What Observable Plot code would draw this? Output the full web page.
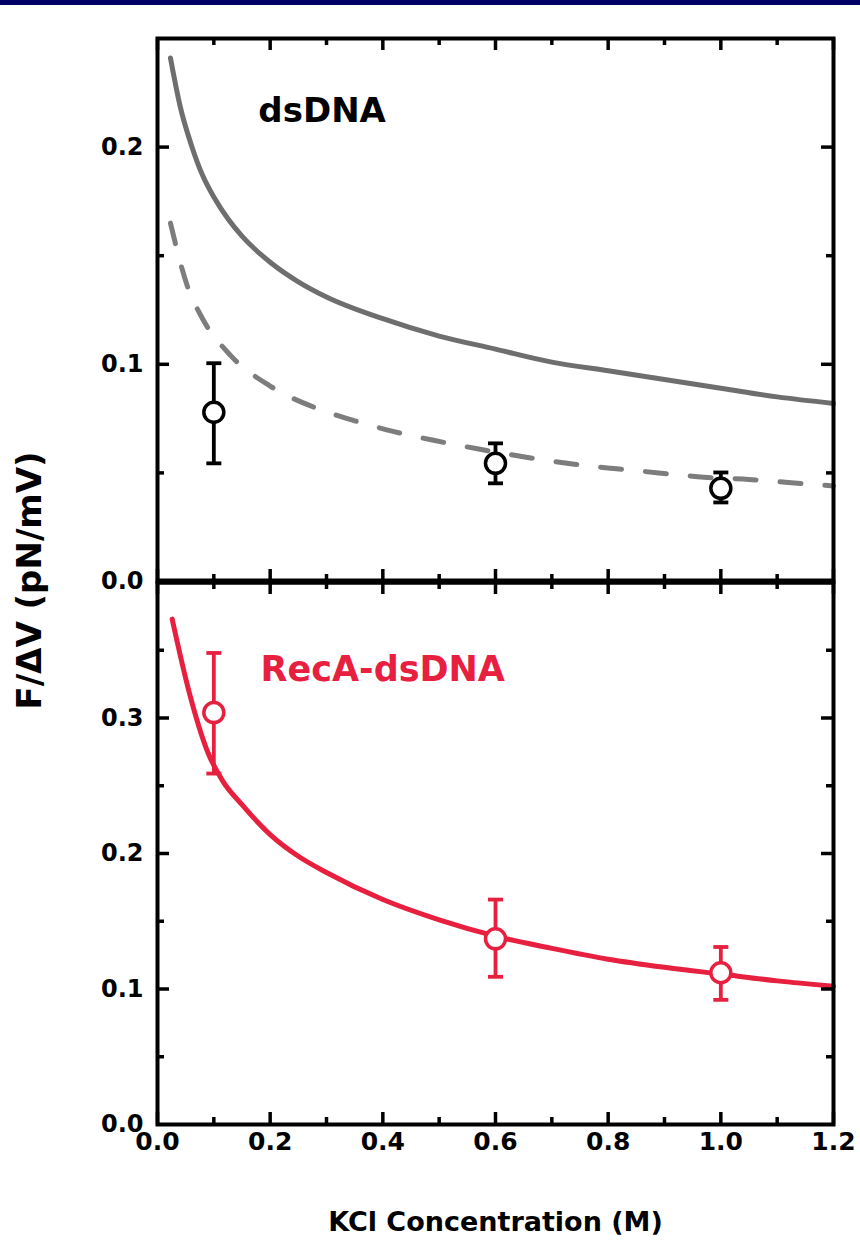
<!DOCTYPE html>
<html><head><meta charset="utf-8">
<script src="https://cdn.jsdelivr.net/npm/d3@7"></script>
<script src="https://cdn.jsdelivr.net/npm/@observablehq/plot@0.6"></script>
<style>
body{margin:0;background:#fff;width:860px;height:1252px;overflow:hidden;font-family:"DejaVu Sans",sans-serif;}
#bar{height:5px;background:#000066;}
svg{display:block}
</style></head><body>
<div id="bar"></div>
<div id="chart"></div>
<script>
// ---- tick values ----
const xTicks = [0, 0.2, 0.4, 0.6, 0.8, 1.0, 1.2];
const xMinor = [0.1, 0.3, 0.5, 0.7, 0.9, 1.1];
const topYTicks = [0, 0.1, 0.2];
const topYMajorMarks = [0.1, 0.2];
const topYMinor = [0.05, 0.15];
const botYTicks = [0, 0.1, 0.2, 0.3];
const botYMajorMarks = [0.1, 0.2, 0.3];
const botYMinor = [0.05, 0.15, 0.25, 0.35];

// ---- dsDNA panel ----
const dsSolidX = [0.023, 0.04, 0.06, 0.08, 0.1, 0.125, 0.15, 0.2, 0.25, 0.3, 0.4, 0.5, 0.6, 0.7, 0.8, 0.9, 1.0, 1.1, 1.2];
const dsSolidY = [0.241, 0.219, 0.201, 0.187, 0.177, 0.167, 0.159, 0.147, 0.138, 0.131, 0.121, 0.113, 0.107, 0.101, 0.097, 0.093, 0.089, 0.085, 0.082];
const dsDashX = [0.023, 0.053, 0.08, 0.13, 0.2, 0.28, 0.35, 0.42, 0.49, 0.57, 0.66, 0.74, 0.81, 0.89, 0.97, 1.05, 1.125, 1.2];
const dsDashY = [0.165, 0.136, 0.121, 0.104, 0.090, 0.080, 0.074, 0.069, 0.065, 0.061, 0.057, 0.054, 0.052, 0.050, 0.048, 0.047, 0.0455, 0.044];
const dsPtX = [0.1, 0.6, 1.0];
const dsPtY = [0.0779, 0.0544, 0.0429];
const dsPtLo = [0.0544, 0.0452, 0.0364];
const dsPtHi = [0.1005, 0.0636, 0.0502];

// ---- RecA-dsDNA panel ----
const recCurveX = [0.026, 0.055, 0.09, 0.115, 0.15, 0.2, 0.25, 0.3, 0.4, 0.5, 0.6, 0.7, 0.8, 0.9, 1.0, 1.1, 1.2];
const recCurveY = [0.373, 0.321, 0.274, 0.254, 0.236, 0.214, 0.198, 0.186, 0.166, 0.151, 0.139, 0.130, 0.122, 0.116, 0.111, 0.106, 0.102];
const recPtX = [0.1, 0.6, 1.0];
const recPtY = [0.304, 0.137, 0.112];
const recPtLo = [0.259, 0.109, 0.092];
const recPtHi = [0.348, 0.166, 0.131];

const panelLabels = [
  {panel: "top", x: 0.179, y: 0.2166, text: "dsDNA"},
  {panel: "bottom", x: 0.183, y: 0.3356, text: "RecA-dsDNA"}
];
const xTitle = "KCl Concentration (M)";
const yTitle = "F/\u0394V (pN/mV)";

const GRAY = "#6e6e6e", DGRAY = "#7d7d7d", RED = "#e8203f", BLACK = "#000";
const ML = 157, MR = 27, W = 860 - ML - MR;

const zip = (xs, ys) => xs.map((x, i) => ({x, y: ys[i]}));
const pts = (xs, ys, lo, hi) => xs.map((x, i) => ({x, y: ys[i], lo: lo[i], hi: hi[i]}));

const capSymbol = {
  draw(ctx, size) {
    const w = Math.sqrt(size / Math.PI);
    ctx.moveTo(-w, 0); ctx.lineTo(w, 0);
  }
};

function frameTicks(H, yMaj, yMin) {
  const sw = 3.5, maj = 12, min = 7;
  return [
    Plot.tickX(xTicks, {x: d => d, insetTop: H - maj, strokeWidth: sw}),
    Plot.tickX(xTicks, {x: d => d, insetBottom: H - maj, strokeWidth: sw}),
    Plot.tickX(xMinor, {x: d => d, insetTop: H - min, strokeWidth: sw}),
    Plot.tickX(xMinor, {x: d => d, insetBottom: H - min, strokeWidth: sw}),
    Plot.tickY(yMaj, {y: d => d, insetRight: W - maj, strokeWidth: sw}),
    Plot.tickY(yMaj, {y: d => d, insetLeft: W - maj, strokeWidth: sw}),
    Plot.tickY(yMin, {y: d => d, insetRight: W - min, strokeWidth: sw}),
    Plot.tickY(yMin, {y: d => d, insetLeft: W - min, strokeWidth: sw}),
    Plot.frame({stroke: BLACK, strokeWidth: 4})
  ];
}

function errorMarks(data, color) {
  return [
    Plot.ruleX(data, {x: "x", y1: "lo", y2: "hi", stroke: color, strokeWidth: 3.8}),
    Plot.dot(data, {x: "x", y: "lo", symbol: capSymbol, r: 7.5, stroke: color, fill: "none", strokeWidth: 3.8}),
    Plot.dot(data, {x: "x", y: "hi", symbol: capSymbol, r: 7.5, stroke: color, fill: "none", strokeWidth: 3.8}),
    Plot.dot(data, {x: "x", y: "y", r: 10, stroke: color, fill: "white", strokeWidth: 3.5})
  ];
}

const yAxisOpts = {tickSize: 0, tickPadding: 14, tickFormat: d3.format(".1f"), fontSize: 24, fontWeight: "bold", label: null, fill: BLACK};
const plotStyle = {fontFamily: "DejaVu Sans, sans-serif", background: "transparent", overflow: "visible", color: BLACK};

// top panel: frame from y=38 to y=581 (svg starts at y=5)
const H1 = 581 - 38;
const topPlot = Plot.plot({
  width: 860, height: 577, marginTop: 33, marginBottom: 1, marginLeft: ML, marginRight: MR,
  style: plotStyle,
  x: {domain: [0, 1.2], axis: null},
  y: {domain: [0, 0.25], axis: null},
  marks: [
    Plot.line(zip(dsSolidX, dsSolidY), {x: "x", y: "y", stroke: GRAY, strokeWidth: 5, curve: "monotone-x"}),
    Plot.line(zip(dsDashX, dsDashY), {x: "x", y: "y", stroke: DGRAY, strokeWidth: 5, strokeDasharray: "21,24", curve: "monotone-x"}),
    ...errorMarks(pts(dsPtX, dsPtY, dsPtLo, dsPtHi), BLACK),
    Plot.text(panelLabels.filter(d => d.panel === "top"), {x: "x", y: "y", text: "text", textAnchor: "start", lineAnchor: "middle", fontSize: 34, fontWeight: "bold", fill: BLACK}),
    Plot.axisY(topYTicks, yAxisOpts),
    ...frameTicks(H1, topYMajorMarks, topYMinor),
    Plot.ruleY([0], {stroke: BLACK, strokeWidth: 6})
  ]
});

// bottom panel: frame from y=582 to y=1124
const H2 = 1124 - 582;
const bottomPlot = Plot.plot({
  width: 860, height: 670, marginTop: 0, marginBottom: 128, marginLeft: ML, marginRight: MR,
  style: plotStyle,
  x: {domain: [0, 1.2], axis: null},
  y: {domain: [0, 0.4], axis: null},
  marks: [
    Plot.line(zip(recCurveX, recCurveY), {x: "x", y: "y", stroke: RED, strokeWidth: 5, curve: "monotone-x"}),
    ...errorMarks(pts(recPtX, recPtY, recPtLo, recPtHi), RED),
    Plot.text(panelLabels.filter(d => d.panel === "bottom"), {x: "x", y: "y", text: "text", textAnchor: "start", lineAnchor: "middle", fontSize: 35, fontWeight: "bold", fill: RED}),
    Plot.axisY(botYTicks, yAxisOpts),
    Plot.axisX(xTicks, {anchor: "bottom", tickSize: 0, tickPadding: 8, tickFormat: d3.format(".1f"), fontSize: 25, fontWeight: "bold", label: null, fill: BLACK}),
    ...frameTicks(H2, botYMajorMarks, botYMinor),
    Plot.text([xTitle], {frameAnchor: "bottom", dy: 98, text: d => d, fontSize: 27, fontWeight: "bold", lineAnchor: "middle", fill: BLACK}),
    Plot.text([yTitle], {frameAnchor: "top-left", dx: -127, dy: -2, text: d => d, rotate: -90, textAnchor: "middle", lineAnchor: "middle", fontSize: 34, fontWeight: "bold", fill: BLACK})
  ]
});

const chart = document.getElementById("chart");
chart.appendChild(topPlot);
chart.appendChild(bottomPlot);
</script>
</body></html>
